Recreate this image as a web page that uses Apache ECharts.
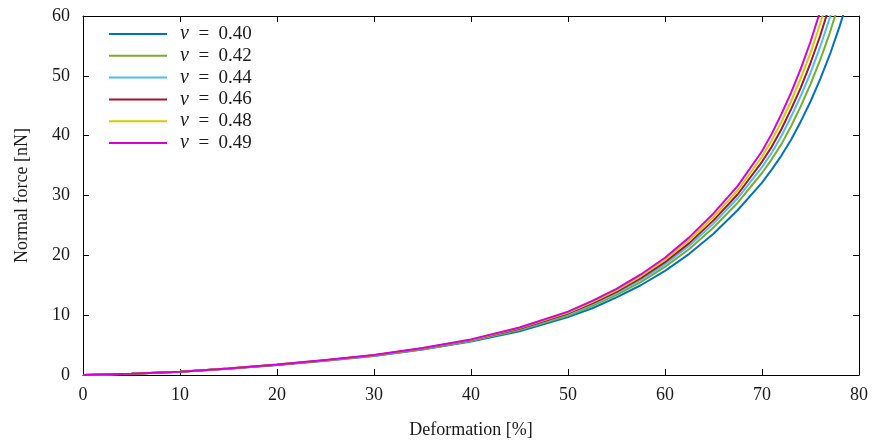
<!DOCTYPE html>
<html>
<head>
<meta charset="utf-8">
<script src="https://cdn.jsdelivr.net/npm/echarts@6/dist/echarts.min.js"></script>
<style>
html,body{margin:0;padding:0;background:#fff;}
#chart{width:872px;height:444px;}
</style>
</head>
<body>
<div id="chart"></div>
<script>
// Deformation [%] sample points
var deformation = [0,5,10,15,20,25,30,35,40,45,50,52.5,55,57.5,60,62.5,65,67.5,70,71,72,73,74,75,76,77,78,79,80];
// Normal force [nN] for each Poisson ratio
var nu040 = [0,0.21,0.53,1.05,1.67,2.38,3.19,4.24,5.58,7.31,9.67,11.16,12.96,15.0,17.41,20.25,23.62,27.58,32.16,34.33,36.67,39.33,42.38,45.71,49.45,53.57,58.27,63.5,69.2];
var nu042 = [0,0.215,0.54,1.06,1.69,2.42,3.24,4.32,5.70,7.51,9.95,11.54,13.40,15.53,18.08,21.07,24.65,28.79,33.76,36.05,38.59,41.58,44.93,48.62,52.66,57.23,62.43,68.2,74.5];
var nu044 = [0,0.216,0.54,1.07,1.71,2.44,3.27,4.38,5.77,7.63,10.14,11.79,13.68,15.89,18.50,21.61,25.30,29.58,34.74,37.15,39.93,43.17,46.64,50.50,54.87,59.75,65.2,71.3,78.1];
var nu046 = [0,0.218,0.54,1.08,1.72,2.46,3.30,4.42,5.83,7.74,10.29,11.98,13.90,16.18,18.86,22.04,25.84,30.21,35.63,38.13,41.08,44.44,48.04,52.14,56.7,61.9,67.6,74.0,81.0];
var nu048 = [0,0.22,0.55,1.09,1.74,2.48,3.32,4.46,5.89,7.84,10.44,12.18,14.15,16.50,19.22,22.51,26.42,30.88,36.48,39.21,42.30,45.75,49.60,53.83,58.7,64.1,70.2,76.8,84.0];
var nu049 = [0,0.22,0.55,1.1,1.75,2.5,3.35,4.5,5.95,7.95,10.6,12.4,14.4,16.8,19.6,23.0,27.0,31.6,37.4,40.3,43.6,47.2,51.2,55.7,60.8,66.5,72.8,79.5,87.0];

var seriesNames = ['0.40','0.42','0.44','0.46','0.48','0.49'];
var seriesData = [nu040, nu042, nu044, nu046, nu048, nu049];
var colors = ['#0072bd','#77ac30','#4dbeee','#a2142f','#d4cc00','#d600d6'];

var font = '"Liberation Serif","DejaVu Serif",serif';
var txt = '#1a1a1a';

function pairs(ys){ return deformation.map(function(x,i){ return [x, ys[i]]; }); }

var series = seriesData.map(function(ys, k){
  return {
    name: seriesNames[k],
    type: 'line',
    data: pairs(ys),
    symbol: 'none',
    smooth: false,
    clip: true,
    lineStyle: {color: colors[k], width: 2},
    itemStyle: {color: colors[k]},
    xAxisIndex: 0,
    yAxisIndex: 0,
    animation: false
  };
});

var baseAxis = {
  axisLine: {show: true, onZero: false, lineStyle: {color: '#000', width: 1}},
  axisTick: {show: true, inside: true, length: 6, lineStyle: {color: '#000', width: 1}},
  splitLine: {show: false}
};

var chart = echarts.init(document.getElementById('chart'), null, {renderer: 'canvas'});
chart.setOption({
  animation: false,
  color: colors,
  grid: {left: 83, right: 13, top: 16, bottom: 69, containLabel: false},
  legend: {
    orient: 'vertical',
    left: 109,
    top: 24,
    padding: 0,
    icon: 'rect',
    itemWidth: 58,
    itemHeight: 2,
    itemGap: 1.8,
    data: seriesNames,
    formatter: function(n){ return '{i|\u03bd}\u2002=\u2002' + n; },
    textStyle: {
      fontFamily: font, fontSize: 19, color: txt, padding: [0,0,0,8], lineHeight: 20,
      rich: {i: {fontFamily: font, fontStyle: 'italic', fontSize: 20, color: txt, lineHeight: 20}}
    }
  },
  xAxis: [
    Object.assign({}, baseAxis, {
      type: 'value', position: 'bottom', min: 0, max: 80, interval: 10,
      name: 'Deformation [%]', nameLocation: 'middle', nameGap: 46,
      nameTextStyle: {fontFamily: font, fontSize: 18, color: txt},
      axisLabel: {fontFamily: font, fontSize: 18, color: txt, margin: 11}
    }),
    Object.assign({}, baseAxis, {
      type: 'value', position: 'top', min: 0, max: 80, interval: 10,
      axisLabel: {show: false}
    })
  ],
  yAxis: [
    Object.assign({}, baseAxis, {
      type: 'value', position: 'left', min: 0, max: 60, interval: 10,
      name: 'Normal force [nN]', nameLocation: 'middle', nameGap: 52,
      nameTextStyle: {fontFamily: font, fontSize: 18, color: txt},
      axisLabel: {fontFamily: font, fontSize: 18, color: txt, margin: 13}
    }),
    Object.assign({}, baseAxis, {
      type: 'value', position: 'right', min: 0, max: 60, interval: 10,
      axisLabel: {show: false}
    })
  ],
  series: series
});
</script>
</body>
</html>
